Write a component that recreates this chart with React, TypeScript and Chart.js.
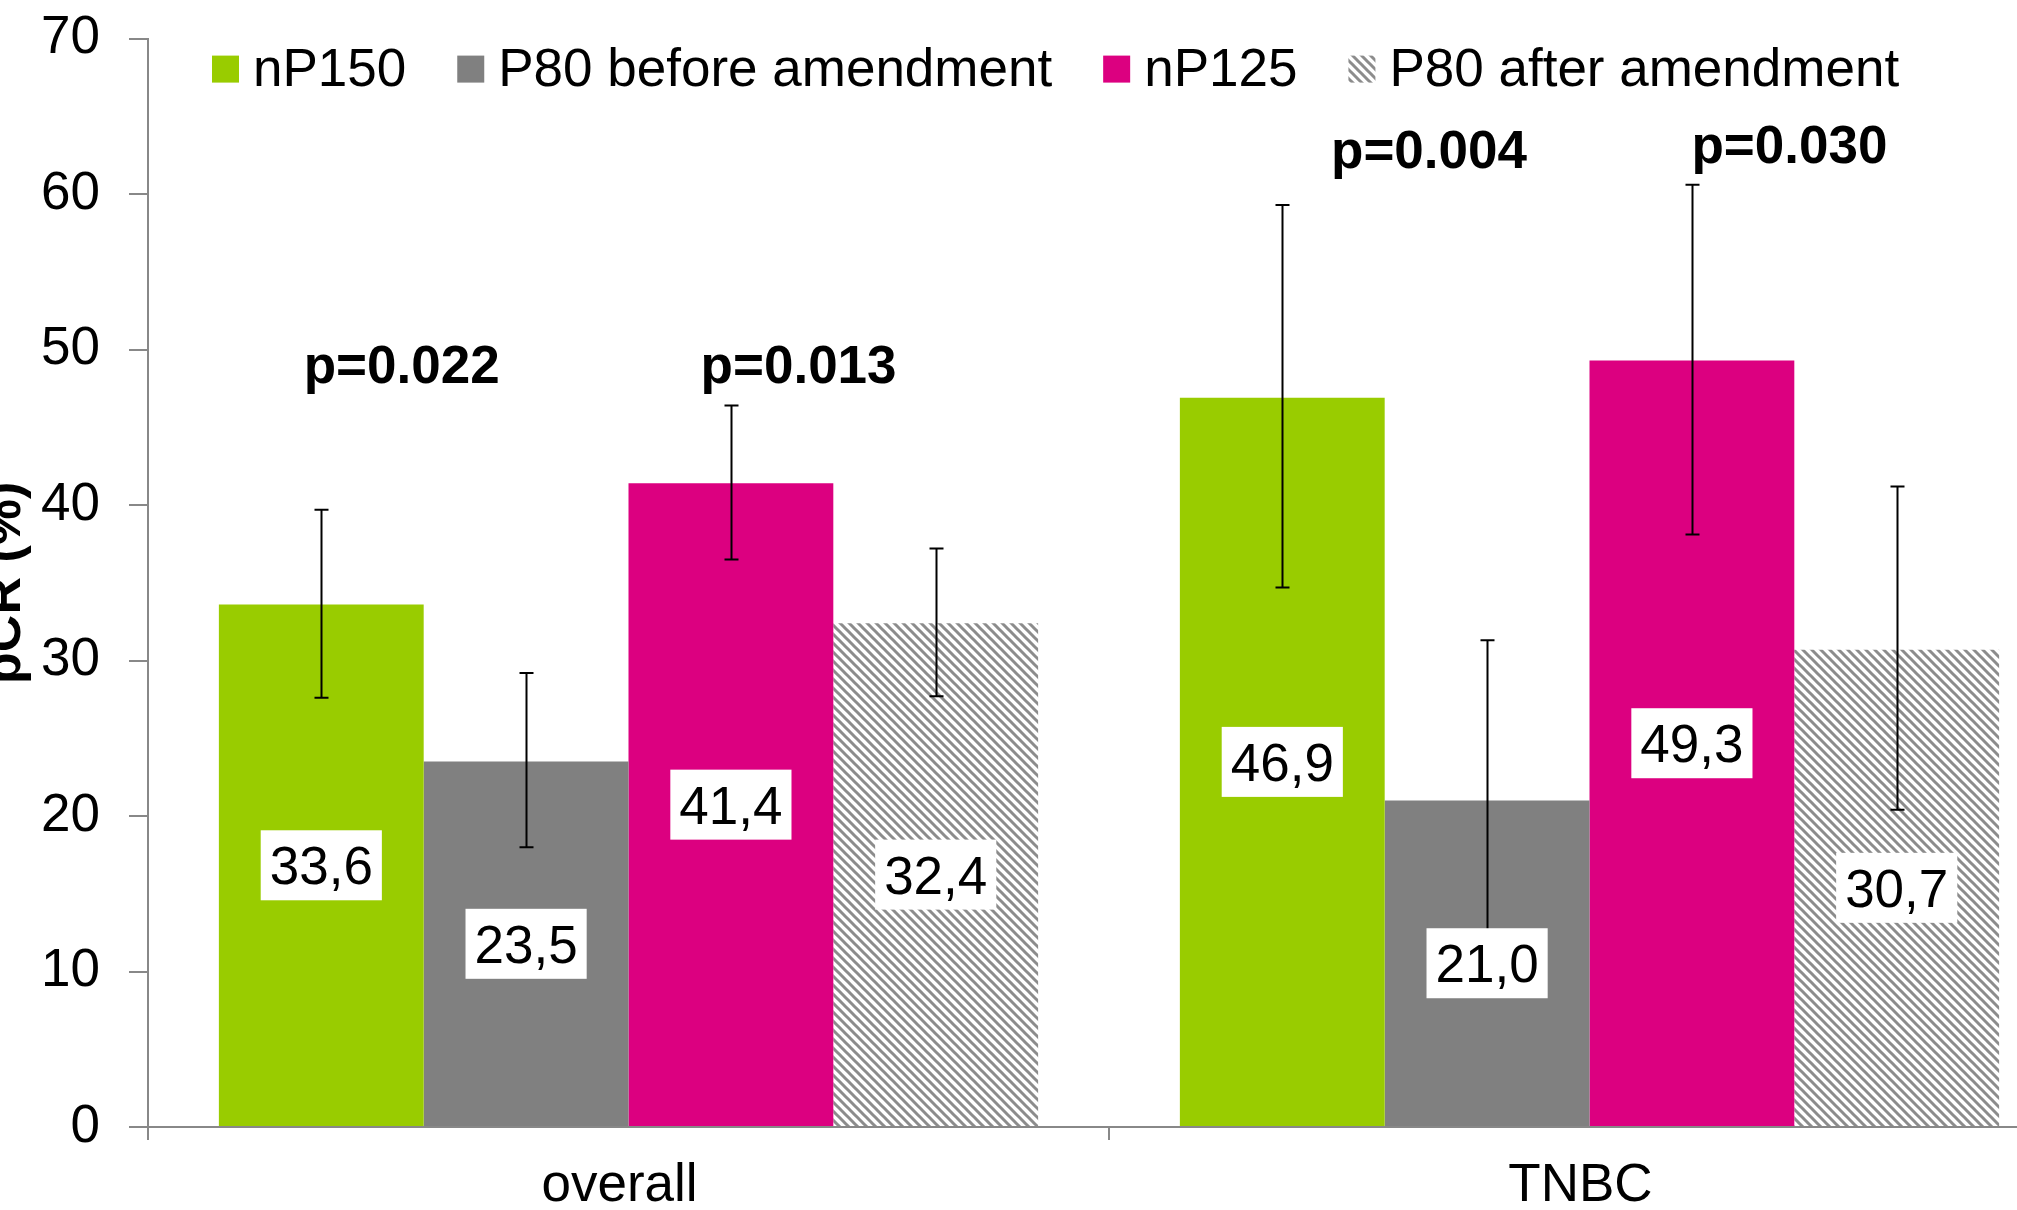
import React, { useEffect, useRef } from "react";
import { Chart, registerables } from "chart.js";

Chart.register(...registerables);

// ---------- data ----------
const categories = ["overall", "TNBC"];
const seriesNames = ["nP150", "P80 before amendment", "nP125", "P80 after amendment"];

const nP150 = [33.6, 46.9];
const p80Before = [23.5, 21.0];
const nP125 = [41.4, 49.3];
const p80After = [32.4, 30.7];

const nP150Low = [27.6, 34.7];
const nP150High = [39.7, 59.3];
const p80BeforeLow = [18.0, 12.6];
const p80BeforeHigh = [29.2, 31.3];
const nP125Low = [36.5, 38.1];
const nP125High = [46.4, 60.6];
const p80AfterLow = [27.7, 20.4];
const p80AfterHigh = [37.2, 41.2];

const yTicks = [0, 10, 20, 30, 40, 50, 60, 70];

const pValueTexts = ["p=0.022", "p=0.013", "p=0.004", "p=0.030"];
const pValueCategory = [0, 0, 1, 1];
const pValueShift = [-0.236, 0.177, -0.167, 0.208];
const pValueLevel = [47.85, 47.85, 61.7, 62.0];

// ---------- styles ----------
const FONT = "'Liberation Sans', Arial, Helvetica, sans-serif";
const GREEN = "#99CC00";
const GRAY = "#808080";
const MAGENTA = "#DC0080";
const AXIS = "#888888";

function makeHatch(): CanvasPattern | string {
  const s = 9;
  const c = document.createElement("canvas");
  c.width = s;
  c.height = s;
  const g = c.getContext("2d");
  if (!g) return "#bbbbbb";
  g.fillStyle = "#ffffff";
  g.fillRect(0, 0, s, s);
  g.strokeStyle = "#8c8c8c";
  g.lineWidth = 3;
  for (const k of [-1, 0, 1]) {
    g.beginPath();
    g.moveTo(k * s - 2, -2);
    g.lineTo(k * s + s + 2, s + 2);
    g.stroke();
  }
  return g.createPattern(c, "repeat") || "#bbbbbb";
}

export default function App() {
  const ref = useRef<HTMLCanvasElement>(null);

  useEffect(() => {
    const canvas = ref.current;
    if (!canvas) return;
    const hatch = makeHatch();

    const values = [nP150, p80Before, nP125, p80After];
    const lows = [nP150Low, p80BeforeLow, nP125Low, p80AfterLow];
    const highs = [nP150High, p80BeforeHigh, nP125High, p80AfterHigh];
    const colors: any[] = [GREEN, GRAY, MAGENTA, hatch];

    const overlay = {
      id: "overlay",
      afterDatasetsDraw(chart: any) {
        const ctx: CanvasRenderingContext2D = chart.ctx;
        const xs = chart.scales.x;
        const ys = chart.scales.y;
        const area = chart.chartArea;
        ctx.save();

        // error bars
        ctx.strokeStyle = "#000";
        ctx.lineWidth = 2;
        chart.data.datasets.forEach((_ds: any, di: number) => {
          const meta = chart.getDatasetMeta(di);
          meta.data.forEach((bar: any, i: number) => {
            const x = Math.round(bar.x) + 0.5;
            const yl = ys.getPixelForValue(lows[di][i]);
            const yh = ys.getPixelForValue(highs[di][i]);
            ctx.beginPath();
            ctx.moveTo(x, yl);
            ctx.lineTo(x, yh);
            ctx.moveTo(x - 7, yl);
            ctx.lineTo(x + 7, yl);
            ctx.moveTo(x - 7, yh);
            ctx.lineTo(x + 7, yh);
            ctx.stroke();
          });
        });

        // value labels in white boxes
        ctx.font = `53px ${FONT}`;
        ctx.textAlign = "center";
        ctx.textBaseline = "alphabetic";
        chart.data.datasets.forEach((_ds: any, di: number) => {
          const meta = chart.getDatasetMeta(di);
          meta.data.forEach((bar: any, i: number) => {
            const txt = values[di][i].toFixed(1).replace(".", ",");
            const w = ctx.measureText(txt).width + 18;
            const h = 70;
            const cx = bar.x;
            const cy = (bar.y + bar.base) / 2;
            ctx.fillStyle = "#ffffff";
            ctx.fillRect(cx - w / 2, cy - h / 2, w, h);
            ctx.fillStyle = "#000000";
            ctx.fillText(txt, cx, cy + 19);
          });
        });

        // p-values
        ctx.font = `bold 53px ${FONT}`;
        ctx.fillStyle = "#000";
        pValueTexts.forEach((t, k) => {
          const x = xs.getPixelForValue(pValueCategory[k] + pValueShift[k]);
          const y = ys.getPixelForValue(pValueLevel[k]);
          ctx.fillText(t, x, y);
        });

        // legend
        ctx.font = `53px ${FONT}`;
        ctx.textAlign = "left";
        let lx = area.left + 64;
        const boxTop = area.top + 17;
        const box = 27;
        chart.data.datasets.forEach((ds: any) => {
          ctx.fillStyle = ds.backgroundColor;
          ctx.fillRect(lx, boxTop, box, box);
          ctx.fillStyle = "#000";
          ctx.fillText(ds.label, lx + box + 14, area.top + 47);
          lx += box + 14 + ctx.measureText(ds.label).width + 51;
        });

        ctx.restore();
      },
    };

    const chart = new Chart(canvas, {
      type: "bar",
      data: {
        labels: categories,
        datasets: seriesNames.map((name, di) => ({
          label: name,
          data: values[di],
          backgroundColor: colors[di],
          borderWidth: 0,
          categoryPercentage: 0.8525,
          barPercentage: 1.0,
        })),
      },
      options: {
        animation: false,
        responsive: false,
        maintainAspectRatio: false,
        devicePixelRatio: 1,
        layout: { padding: { top: 38.6, right: 20, left: 0, bottom: 0 } },
        plugins: {
          legend: { display: false },
          tooltip: { enabled: false },
          title: { display: false },
        },
        scales: {
          x: {
            afterFit: (s: any) => {
              s.height = 103;
              s.paddingLeft = 0;
              s.paddingRight = 0;
            },
            grid: {
              offset: true,
              drawOnChartArea: false,
              drawTicks: true,
              tickLength: 13,
              color: AXIS,
              lineWidth: 2,
            },
            border: { display: true, color: AXIS, width: 2 },
            ticks: {
              color: "#000",
              font: { family: FONT, size: 53 },
              padding: 15,
              labelOffset: -9,
              maxRotation: 0,
              autoSkip: false,
            },
          },
          y: {
            min: 0,
            max: 70,
            afterFit: (s: any) => {
              s.width = 174;
              s.paddingTop = 0;
              s.paddingBottom = 0;
            },
            afterBuildTicks: (s: any) => {
              s.ticks = yTicks.map((v) => ({ value: v }));
            },
            grid: {
              drawOnChartArea: false,
              drawTicks: true,
              tickLength: 19,
              color: AXIS,
              lineWidth: 2,
            },
            border: { display: true, color: AXIS, width: 2 },
            ticks: {
              color: "#000",
              font: { family: FONT, size: 53 },
              padding: 29,
              stepSize: 10,
            },
            title: {
              display: true,
              text: "pCR (%)",
              color: "#000",
              font: { family: FONT, size: 52, weight: "bold" },
              padding: { top: 0, bottom: 0 },
            },
          },
        },
      },
      plugins: [overlay],
    } as any);

    return () => {
      chart.destroy();
    };
  }, []);

  return (
    <div
      style={{
        position: "fixed",
        left: 0,
        top: 0,
        width: 2017,
        height: 1210,
        overflow: "hidden",
        background: "#ffffff",
      }}
    >
      <canvas
        ref={ref}
        width={2116}
        height={1230}
        style={{ position: "absolute", left: -26, top: 0, width: 2116, height: 1230 }}
      />
    </div>
  );
}
